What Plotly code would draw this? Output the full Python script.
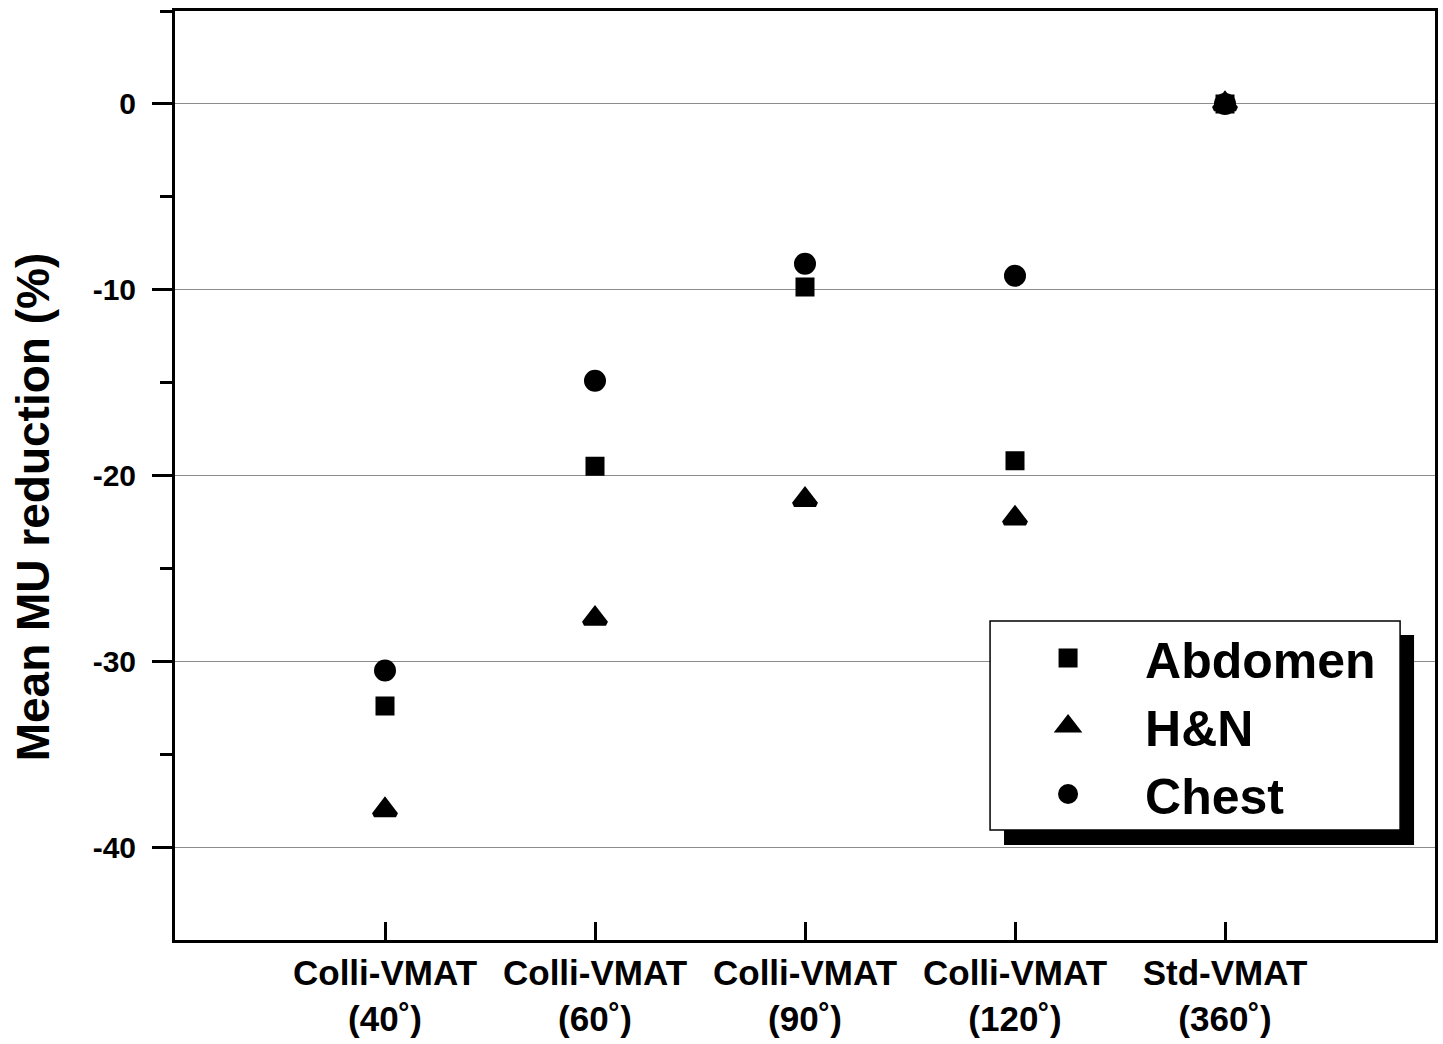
import plotly.graph_objects as go

# ---- data ----
categories = [1, 2, 3, 4, 5]
tick_labels = ["Colli-VMAT<br>(40˚)", "Colli-VMAT<br>(60˚)", "Colli-VMAT<br>(90˚)",
               "Colli-VMAT<br>(120˚)", "Std-VMAT<br>(360˚)"]
abdomen = [-32.4, -19.5, -9.85, -19.2, 0.0]
head_neck = [-38.0, -27.7, -21.3, -22.3, 0.0]
chest = [-30.5, -14.9, -8.6, -9.25, 0.0]
y_ticks = [0, -10, -20, -30, -40]
y_tick_text = ["0", "-10", "-20", "-30", "-40"]
y_minor = [5, -5, -15, -25, -35]

FONT = "Liberation Sans, Arial, sans-serif"

# plot-area pixel geometry
L, R, T, B = 175, 1438, 11, 940
W, H = 1443, 1044


def px(xp):
    return (xp - L) / (R - L)


def py(yp):
    return (B - yp) / (B - T)


fig = go.Figure()
fig.add_trace(go.Scatter(x=categories, y=abdomen, mode="markers", name="Abdomen",
                         marker=dict(symbol="square", size=15, color="black",
                                     line=dict(color="black", width=4))))
fig.add_trace(go.Scatter(x=categories, y=head_neck, mode="markers", name="H&N",
                         marker=dict(symbol="triangle-up", size=19, color="black",
                                     line=dict(color="black", width=5))))
fig.add_trace(go.Scatter(x=categories, y=chest, mode="markers", name="Chest",
                         marker=dict(symbol="circle", size=18, color="black",
                                     line=dict(color="black", width=4))))

# legend box with shadow
fig.add_shape(type="rect", xref="paper", yref="paper", layer="above",
              x0=px(1006), x1=px(1417), y0=py(845), y1=py(635),
              fillcolor="black", line=dict(width=0))
fig.add_shape(type="rect", xref="paper", yref="paper", layer="above",
              x0=px(992), x1=px(1403), y0=py(830), y1=py(621),
              fillcolor="white", line=dict(color="black", width=1.5))

fig.add_annotation(text="<b>Mean MU reduction (%)</b>", xref="paper", yref="paper",
                   x=px(33), y=py(507), textangle=-90, showarrow=False,
                   xanchor="center", yanchor="middle",
                   font=dict(family=FONT, size=46, color="black"))

fig.update_layout(
    width=W, height=H,
    margin=dict(l=L, r=W - R, t=T, b=H - B),
    paper_bgcolor="white", plot_bgcolor="white",
    font=dict(family=FONT, color="black"),
    showlegend=True,
    legend=dict(x=px(993), y=py(619), xanchor="left", yanchor="top",
                bgcolor="rgba(0,0,0,0)", borderwidth=0, itemwidth=144,
                font=dict(family=FONT, size=50, color="black", weight="bold"),
                tracegroupgap=0),
    xaxis=dict(range=[0, 6], tickmode="array", tickvals=categories, ticktext=tick_labels,
               ticks="inside", ticklen=18, tickwidth=3, tickcolor="black",
               showline=True, linewidth=3, linecolor="black", mirror=True,
               showgrid=False, zeroline=False,
               tickfont=dict(family=FONT, size=35, color="black", weight="bold")),
    yaxis=dict(range=[-45, 5], tickmode="array", tickvals=y_ticks, ticktext=y_tick_text,
               ticks="outside", ticklen=20, tickwidth=3, tickcolor="black",
               minor=dict(tickvals=y_minor, ticks="outside", ticklen=12, tickwidth=3,
                          tickcolor="black", showgrid=False),
               showline=True, linewidth=3, linecolor="black", mirror=True,
               showgrid=True, gridcolor="#8c8c8c", gridwidth=1, zeroline=False,
               ticklabelstandoff=10,
               tickfont=dict(family=FONT, size=30, color="black", weight="bold")),
)

fig.write_html("out.html", config={"displayModeBar": False},
               post_script="document.body.style.margin='0';")
